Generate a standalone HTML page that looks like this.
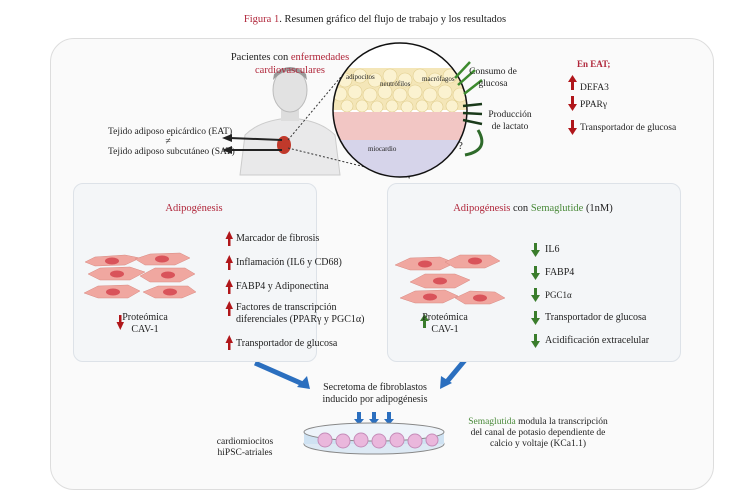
<!DOCTYPE html>
<html><head><meta charset="utf-8"><style>
body{margin:0;width:750px;height:469px;background:#fff;font-family:"Liberation Serif",serif;position:relative;overflow:hidden;color:#222}
.t{position:absolute;font-size:10px;line-height:12px;white-space:nowrap}
.r{color:#b0263a}.g{color:#4a8a3a}
.panel{position:absolute;background:#f4f6f8;border:1px solid #dde2e8;border-radius:10px}
</style></head><body>
<div class="t" style="left:0;width:750px;text-align:center;top:14px;font-size:10.5px"><span class="r">Figura 1</span>. Resumen gráfico del flujo de trabajo y los resultados</div>
<div style="position:absolute;left:50px;top:38px;width:662px;height:450px;border:1px solid #ddd;border-radius:24px;background:#fafafa"></div>

<svg style="position:absolute;left:0;top:0" width="750" height="469">
<!-- person -->
<path d="M240 175 L245 135 Q260 120 290 118 Q320 120 335 135 L340 175 Z" fill="#e9e9ea" stroke="#ccc"/>
<rect x="281" y="105" width="18" height="16" fill="#ddd"/>
<ellipse cx="290" cy="90" rx="17" ry="22" fill="#e2e2e2" stroke="#bbb"/>
<path d="M273 80 Q290 62 307 80 L306 74 Q290 60 274 74Z" fill="#999"/>
<ellipse cx="284" cy="145" rx="7" ry="9" fill="#c0392b"/>
<line x1="282" y1="140" x2="230" y2="138" stroke="#222" stroke-width="2"/>
<path d="M222 138 L232 134 L232 142Z" fill="#222"/>
<line x1="282" y1="150" x2="230" y2="150" stroke="#222" stroke-width="2"/>
<path d="M222 150 L232 146 L232 154Z" fill="#222"/>
<line x1="288" y1="140" x2="355" y2="60" stroke="#333" stroke-dasharray="2,2"/>
<line x1="288" y1="148" x2="410" y2="178" stroke="#333" stroke-dasharray="2,2"/>
<!-- circle -->
<defs><clipPath id="c"><circle cx="400" cy="110" r="67"/></clipPath></defs>
<g clip-path="url(#c)">
<rect x="330" y="40" width="140" height="140" fill="#fff"/>
<rect x="330" y="68" width="140" height="42" fill="#f4e6b8"/>
<g fill="#fbf2d0" stroke="#e0cd8c" stroke-width="0.6">
<circle cx="345" cy="80" r="7"/><circle cx="360" cy="76" r="7"/><circle cx="375" cy="80" r="7"/><circle cx="390" cy="76" r="7"/><circle cx="405" cy="80" r="7"/><circle cx="420" cy="76" r="7"/><circle cx="435" cy="80" r="7"/><circle cx="450" cy="76" r="7"/>
<circle cx="340" cy="94" r="7"/><circle cx="355" cy="92" r="7"/><circle cx="370" cy="95" r="7"/><circle cx="385" cy="92" r="7"/><circle cx="400" cy="95" r="7"/><circle cx="415" cy="92" r="7"/><circle cx="430" cy="95" r="7"/><circle cx="445" cy="92" r="7"/><circle cx="460" cy="95" r="7"/>
<circle cx="347" cy="106" r="6"/><circle cx="362" cy="106" r="6"/><circle cx="377" cy="107" r="6"/><circle cx="392" cy="106" r="6"/><circle cx="407" cy="107" r="6"/><circle cx="422" cy="106" r="6"/><circle cx="437" cy="107" r="6"/><circle cx="452" cy="106" r="6"/>
</g>
<rect x="330" y="112" width="140" height="30" fill="#f2c6c4"/>
<rect x="330" y="140" width="140" height="40" fill="#d6d4ea"/>
</g>
<circle cx="400" cy="110" r="67" fill="none" stroke="#111" stroke-width="1.5"/>
<g stroke="#3d8a2e" stroke-width="2.5"><line x1="475" y1="70" x2="458" y2="85"/><line x1="482" y1="80" x2="464" y2="94"/><line x1="470" y1="62" x2="455" y2="78"/></g>
<g stroke="#1a3a1a" stroke-width="2.5"><line x1="463" y1="106" x2="482" y2="104"/><line x1="463" y1="113" x2="482" y2="114"/><line x1="463" y1="120" x2="482" y2="124"/></g>
<path d="M478 130 Q490 150 465 155" fill="none" stroke="#2e6a2a" stroke-width="3"/>
<!-- red arrows top right -->
<g fill="#b0161a"><rect x="571" y="81" width="3" height="9"/><path d="M568 82 L572.5 75 L577 82Z"/>
<rect x="571" y="96" width="3" height="9"/><path d="M568 104 L572.5 111 L577 104Z"/>
<rect x="571" y="120" width="3" height="9"/><path d="M568 128 L572.5 135 L577 128Z"/></g>
<!-- blue arrows -->
<g stroke="#2b6fbf" stroke-width="5"><line x1="255" y1="363" x2="305" y2="385"/><line x1="465" y1="360" x2="445" y2="384"/></g>
<path d="M310 389 L297 387 L307 376Z" fill="#2b6fbf"/><path d="M440 389 L441 376 L452 383Z" fill="#2b6fbf"/>
<g fill="#2b6fbf"><rect x="357" y="412" width="4" height="8"/><path d="M354 419 L359 425 L364 419Z"/><rect x="372" y="412" width="4" height="8"/><path d="M369 419 L374 425 L379 419Z"/><rect x="387" y="412" width="4" height="8"/><path d="M384 419 L389 425 L394 419Z"/></g>
<!-- dish -->
<ellipse cx="374" cy="444" rx="70" ry="10" fill="#dde9f4" stroke="#888"/>
<rect x="304" y="432" width="140" height="12" fill="#cfe2f2"/>
<ellipse cx="374" cy="432" rx="70" ry="9" fill="#eef4fa" stroke="#888"/>
<g fill="#eab7dc" stroke="#c58cb9"><circle cx="325" cy="440" r="7"/><circle cx="343" cy="441" r="7"/><circle cx="361" cy="440" r="7"/><circle cx="379" cy="441" r="7"/><circle cx="397" cy="440" r="7"/><circle cx="415" cy="441" r="7"/><circle cx="432" cy="440" r="6"/></g>
</svg>

<div class="t" style="left:205px;top:51px;width:170px;text-align:center;font-size:10.5px;line-height:13px">Pacientes con <span class="r">enfermedades<br>cardiovasculares</span></div>
<div class="t" style="left:108px;top:127px;width:120px;text-align:center;line-height:10px;font-size:9.5px">Tejido adiposo epicárdico (EAT)<br>≠<br>Tejido adiposo subcutáneo (SAT)</div>
<div class="t" style="left:346px;top:71px;font-size:7px">adipocitos</div>
<div class="t" style="left:380px;top:78px;font-size:7px">neutrófilos</div>
<div class="t" style="left:422px;top:73px;font-size:7px">macrófagos</div>
<div class="t" style="left:368px;top:143px;font-size:7px">miocardio</div>
<div class="t" style="left:458px;top:140px;font-size:11px">?</div>
<div class="t" style="left:463px;top:66px;width:60px;text-align:center;font-size:9.5px">Consumo de<br>glucosa</div>
<div class="t" style="left:485px;top:109px;width:50px;text-align:center;font-size:9.5px">Producción<br>de lactato</div>
<div class="t r" style="left:577px;top:58px;font-weight:bold;font-size:9px">En EAT;</div>
<div class="t" style="left:580px;top:82px;font-size:9.5px">DEFA3</div>
<div class="t" style="left:580px;top:99px;font-size:9.5px">PPARγ</div>
<div class="t" style="left:580px;top:122px;font-size:9.5px">Transportador de glucosa</div>

<div class="panel" style="left:73px;top:183px;width:242px;height:177px"></div>
<div class="panel" style="left:387px;top:183px;width:292px;height:177px"></div>

<svg style="position:absolute;left:0;top:0" width="750" height="469">
<g fill="#f0a7a0" stroke="#d88a82" stroke-width="0.5">
<path d="M85 262 L95 257 L125 255 L140 258 L125 265 L95 266Z"/><path d="M135 259 L150 254 L180 253 L190 258 L175 265 L145 265Z"/>
<path d="M88 274 L100 268 L130 267 L145 272 L130 280 L100 280Z"/><path d="M140 276 L155 268 L185 268 L195 274 L180 282 L150 282Z"/>
<path d="M84 293 L98 286 L128 285 L140 291 L128 298 L98 298Z"/><path d="M143 292 L158 286 L188 286 L196 292 L182 298 L155 298Z"/>
<path d="M395 265 L410 258 L440 257 L455 263 L440 270 L410 270Z"/><path d="M445 262 L460 255 L490 255 L500 261 L485 268 L455 268Z"/>
<path d="M410 282 L425 274 L455 274 L470 280 L455 288 L425 288Z"/><path d="M400 298 L415 291 L445 290 L458 296 L443 303 L415 303Z"/><path d="M455 298 L470 291 L495 292 L505 298 L490 304 L465 304Z"/>
</g>
<g fill="#d9535a"><ellipse cx="112" cy="261" rx="7" ry="3.5"/><ellipse cx="162" cy="259" rx="7" ry="3.5"/><ellipse cx="117" cy="274" rx="7" ry="3.5"/><ellipse cx="168" cy="275" rx="7" ry="3.5"/><ellipse cx="113" cy="292" rx="7" ry="3.5"/><ellipse cx="170" cy="292" rx="7" ry="3.5"/>
<ellipse cx="425" cy="264" rx="7" ry="3.5"/><ellipse cx="475" cy="261" rx="7" ry="3.5"/><ellipse cx="440" cy="281" rx="7" ry="3.5"/><ellipse cx="430" cy="297" rx="7" ry="3.5"/><ellipse cx="480" cy="298" rx="7" ry="3.5"/></g>
<g fill="#b0161a">
<rect x="228" y="237" width="2.5" height="9"/><path d="M225.5 239 L229.3 231 L233 239Z"/>
<rect x="228" y="261" width="2.5" height="9"/><path d="M225.5 263 L229.3 255 L233 263Z"/>
<rect x="228" y="285" width="2.5" height="9"/><path d="M225.5 287 L229.3 279 L233 287Z"/>
<rect x="228" y="307" width="2.5" height="9"/><path d="M225.5 309 L229.3 301 L233 309Z"/>
<rect x="228" y="341" width="2.5" height="9"/><path d="M225.5 343 L229.3 335 L233 343Z"/>
<rect x="119" y="315" width="2.5" height="8"/><path d="M116.5 322 L120.3 330 L124 322Z"/>
</g>
<g fill="#3a7d2c">
<rect x="534" y="243" width="3" height="8"/><path d="M531 250 L535.5 257 L540 250Z"/>
<rect x="534" y="266" width="3" height="8"/><path d="M531 273 L535.5 280 L540 273Z"/>
<rect x="534" y="288" width="3" height="8"/><path d="M531 295 L535.5 302 L540 295Z"/>
<rect x="534" y="311" width="3" height="8"/><path d="M531 318 L535.5 325 L540 318Z"/>
<rect x="534" y="334" width="3" height="8"/><path d="M531 341 L535.5 348 L540 341Z"/>
<rect x="423" y="320" width="3" height="8"/><path d="M420 321 L424.5 314 L429 321Z"/>
</g>
</svg>

<div class="t r" style="left:73px;width:242px;text-align:center;top:203px;font-size:10.5px">Adipogénesis</div>
<div class="t" style="left:236px;top:233px">Marcador de fibrosis</div>
<div class="t" style="left:236px;top:257px">Inflamación (IL6 y CD68)</div>
<div class="t" style="left:236px;top:281px">FABP4 y Adiponectina</div>
<div class="t" style="left:236px;top:302px">Factores de transcripción<br>diferenciales (PPARγ y PGC1α)</div>
<div class="t" style="left:236px;top:338px">Transportador de glucosa</div>
<div class="t" style="left:120px;top:312px;width:50px;text-align:center">Proteómica<br>CAV-1</div>

<div class="t" style="left:387px;width:292px;text-align:center;top:203px;font-size:10.5px"><span class="r">Adipogénesis</span> con <span class="g">Semaglutide</span> (1nM)</div>
<div class="t" style="left:545px;top:244px">IL6</div>
<div class="t" style="left:545px;top:267px">FABP4</div>
<div class="t" style="left:545px;top:289px;font-size:9px">PGC1α</div>
<div class="t" style="left:545px;top:312px">Transportador de glucosa</div>
<div class="t" style="left:545px;top:335px">Acidificación extracelular</div>
<div class="t" style="left:420px;top:312px;width:50px;text-align:center">Proteómica<br>CAV-1</div>

<div class="t" style="left:300px;top:382px;width:150px;text-align:center;line-height:12px">Secretoma de fibroblastos<br>inducido por adipogénesis</div>
<div class="t" style="left:215px;top:437px;width:60px;text-align:center;line-height:11px;font-size:9.5px">cardiomiocitos<br>hiPSC-atriales</div>
<div class="t" style="left:463px;top:417px;width:150px;text-align:center;line-height:11px;font-size:9.5px"><span class="g">Semaglutida</span> modula la transcripción<br>del canal de potasio dependiente de<br>calcio y voltaje (KCa1.1)</div>
</body></html>
